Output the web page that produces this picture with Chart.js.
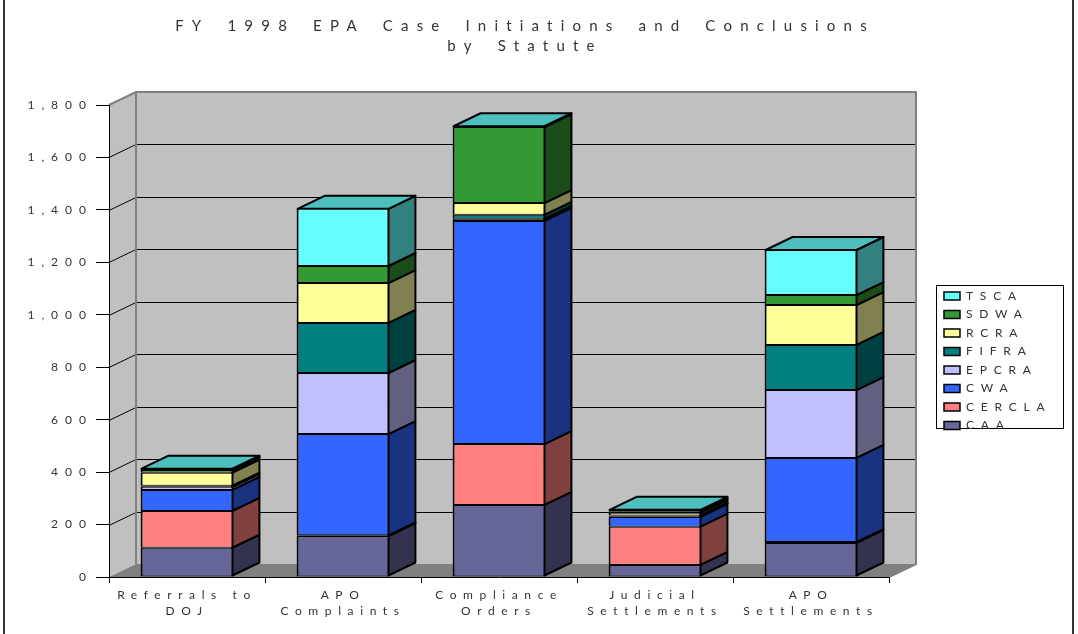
<!DOCTYPE html>
<html><head><meta charset="utf-8">
<style>html,body{margin:0;padding:0;background:#fff}#wrap{width:1078px;height:634px}canvas{display:block}</style>
<script src="https://cdn.jsdelivr.net/npm/chart.js@4"></script></head>
<body><div id="wrap"><canvas id="c" width="1078" height="634"></canvas></div>
<script>
const categories=[["Referrals to","DOJ"],["APO","Complaints"],["Compliance","Orders"],["Judicial","Settlements"],["APO","Settlements"]];
const CAA=[112,156,275,46,130];
const CERCLA=[140,3,232,146,3];
const CWA=[80,386,851,37,321];
const EPCRA=[12,233,8,3,259];
const FIFRA=[4,191,15,3,172];
const RCRA=[50,152,45,10,152];
const SDWA=[10,65,290,6,38];
const TSCA=[5,218,3,5,172];
const titleLines=["FY 1998 EPA Case Initiations and Conclusions","by Statute"];
const FONT="Lato";
const DX=27,DY=13;
const colors={CAA:["#666699","#333350"],CERCLA:["#ff8080","#804040"],CWA:["#3366ff","#1a3380"],EPCRA:["#c0c0ff","#606080"],FIFRA:["#008080","#004040"],RCRA:["#ffff99","#808050"],SDWA:["#339933","#1a4d1a"],TSCA:["#66ffff","#338080"]};
const TOPFACE="#4dbfbf";
const mk=(label,data)=>({label,data,backgroundColor:colors[label][0],sideColor:colors[label][1],borderColor:"#000",borderWidth:{top:1,bottom:1,left:2,right:2},borderSkipped:false,barPercentage:.595,categoryPercentage:1});
function spaced(obj,key,sp,ws,ctx){const o=obj[key];obj[key]=function(...a){ctx.letterSpacing=sp;ctx.wordSpacing=ws;const r=o.apply(this,a);ctx.letterSpacing="0px";ctx.wordSpacing="0px";return r;};}
let wrapped=false;
const scene={id:"scene",
 afterLayout(ch){
  if(!wrapped){wrapped=true;const c=ch.ctx;spaced(ch.titleBlock,"draw","8.2px","6px",c);spaced(ch.legend,"draw","6.8px","0px",c);spaced(ch.scales.x,"drawLabels","6.6px","0px",c);spaced(ch.scales.y,"drawLabels","7px","0px",c);}
  const t=ch.titleBlock;t.left=0;t.right=1050;const l=ch.legend;const p=l.options.labels.padding;l.left=944-p;l.top=290-p;l.right=1070;l.bottom=440;},
 beforeDraw(ch){const c=ch.ctx,{x,y}=ch.scales,L=x.left,R=x.right,T=y.top,B=y.bottom;c.save();
  c.fillStyle="#fff";c.fillRect(0,0,ch.width,ch.height);
  c.strokeStyle="#333";c.lineWidth=2;c.beginPath();c.moveTo(4,0);c.lineTo(4,634);c.moveTo(1073,0);c.lineTo(1073,634);c.stroke();
  c.fillStyle="#c0c0c0";c.fillRect(L+DX,T-DY,R-L,B-T);
  c.beginPath();c.moveTo(L,T);c.lineTo(L+DX,T-DY);c.lineTo(L+DX,B-DY);c.lineTo(L,B);c.closePath();c.fill();
  c.fillStyle="#808080";c.beginPath();c.moveTo(L,B);c.lineTo(L+DX,B-DY);c.lineTo(R+DX,B-DY);c.lineTo(R,B);c.closePath();c.fill();
  c.strokeStyle="#000";c.lineWidth=1;c.beginPath();
  y.ticks.forEach(t=>{const py=Math.round(y.getPixelForValue(t.value))+.5;if(t.value===0||t.value===y.max)return;c.moveTo(L,py);c.lineTo(L+DX,py-DY);c.lineTo(R+DX,py-DY);});c.stroke();
  c.strokeStyle="#808080";c.lineWidth=2;c.beginPath();c.moveTo(L,T);c.lineTo(L+DX,T-DY);c.lineTo(R+DX,T-DY);c.lineTo(R+DX,B-DY);c.lineTo(R,B);c.moveTo(L+DX,T-DY);c.lineTo(L+DX,B-DY);c.stroke();
  c.strokeStyle="#000";c.lineWidth=1;c.strokeRect(936.5,285.5,127,143);
  c.restore();},
 beforeDatasetsDraw(ch){const c=ch.ctx;c.save();c.strokeStyle="#000";c.lineWidth=2;c.lineJoin="round";
  const n=ch.data.datasets.length;
  ch.data.datasets.forEach((ds,i)=>{ch.getDatasetMeta(i).data.forEach(el=>{
    const xr=el.x+el.width/2,xl=el.x-el.width/2,b=i===0?el.base-1:el.base;
    c.fillStyle=ds.sideColor;c.beginPath();c.moveTo(xr-1,el.y);c.lineTo(xr-1+DX,el.y-DY);c.lineTo(xr-1+DX,b-DY);c.lineTo(xr-1,b);c.closePath();c.fill();c.stroke();
    if(i===n-1){c.fillStyle=TOPFACE;c.beginPath();c.moveTo(xl+1,el.y);c.lineTo(xl+1+DX,el.y-DY);c.lineTo(xr-1+DX,el.y-DY);c.lineTo(xr-1,el.y);c.closePath();c.fill();c.stroke();}
  });});c.restore();}
};
new Chart(document.getElementById("c"),{type:"bar",plugins:[scene],
 data:{labels:categories,datasets:[mk("CAA",CAA),mk("CERCLA",CERCLA),mk("CWA",CWA),mk("EPCRA",EPCRA),mk("FIFRA",FIFRA),mk("RCRA",RCRA),mk("SDWA",SDWA),mk("TSCA",TSCA)]},
 options:{responsive:false,animation:false,events:[],
  layout:{padding:{left:0,right:189,top:0,bottom:0}},
  plugins:{tooltip:{enabled:false},
   title:{display:true,text:titleLines,color:"#333",font:{family:FONT,size:15,weight:"normal",lineHeight:20/15},padding:{top:16,bottom:49}},
   legend:{position:"chartArea",align:"start",reverse:true,labels:{boxWidth:16,boxHeight:8,padding:6.5,color:"#333",font:{family:FONT,size:12}}}},
  scales:{
   x:{stacked:true,afterFit(s){s.height=57;},grid:{offset:true,drawOnChartArea:false,drawTicks:true,tickLength:6,tickColor:"#000"},border:{color:"#000",width:1},
      ticks:{maxRotation:0,minRotation:0,autoSkip:false,padding:4,color:"#333",font:{family:FONT,size:12,lineHeight:16/12}}},
   y:{stacked:true,min:0,max:1800,afterFit(s){s.width=109;},grid:{drawOnChartArea:false,tickLength:13,tickColor:"#000"},border:{color:"#000",width:1},
      ticks:{stepSize:200,padding:3,color:"#333",font:{family:FONT,size:12}}}
  }}});
</script></body></html>
